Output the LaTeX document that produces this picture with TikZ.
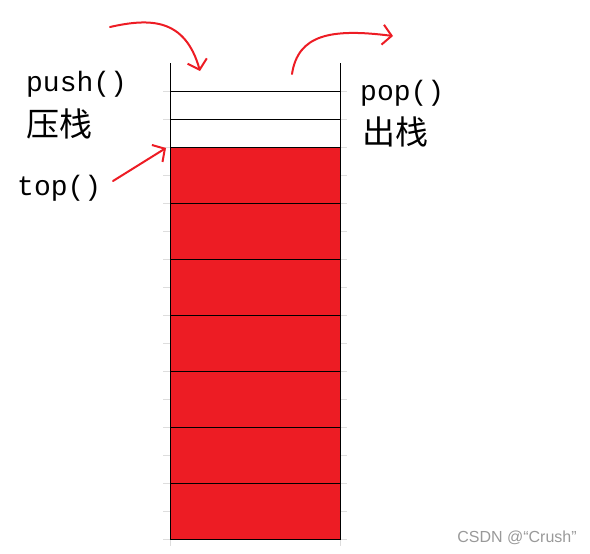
\documentclass[tikz,border=0pt]{standalone}
\usepackage{fontspec}
\setmonofont{Liberation Mono}
\setsansfont{Liberation Sans}
\newfontfamily\cjk{Noto Sans CJK SC}
\usepackage{tikz}
\usetikzlibrary {arrows.meta}
\definecolor{paintred}{HTML}{ED1C24}
\definecolor{tickgray}{HTML}{DDDDDD}

\begin{document}
\begin{tikzpicture} [x = 1pt, y = -1pt]
        %style
        \tikzset{cell/.style = {shape=rectangle, draw, fill=paintred, minimum width=170pt, minimum height=56pt, inner sep=0pt, anchor=north west, line width=1pt}}
        \tikzset{fname/.style = {font=\ttfamily\fontsize{28}{28}\selectfont, inner sep=0pt, anchor=base west}}
        \tikzset{cn/.style = {font=\cjk\fontsize{33}{33}\selectfont, inner sep=0pt}}
        \tikzset{hand/.style = {draw=paintred, line width=2pt, line cap=round, line join=round, -{Straight Barb[length=9pt, width=20pt]}}}
        \tikzset{tick/.style = {draw=tickgray, line width=1pt}}
        \useasboundingbox (0,0) rectangle (590,554);
        % grid ticks
        \foreach \y in {91,119,...,539}
            \draw[tick] (163,\y) -- (170,\y) (340,\y) -- (347,\y);
        \draw[tick] (170,539) -- (170,546) (340,539) -- (340,546);
        % stack
        \foreach \i in {1,...,7}
            \node[cell] (cell\i) at (170,{147+56*(\i-1)}) {};
        \draw[line width=1pt] (170,91) -- (340,91) (170,119) -- (340,119);
        \draw[line width=1pt] (170,63) -- (170,539) (340,63) -- (340,539);
        % labels
        \node[fname] (push)   at (26,91)   {push()};
        \node[cn]    (pushcn) at (60,124)  {压栈};
        \node[fname] (pop)    at (360,100) {pop()};
        \node[cn]    (popcn)  at (395,132) {出栈};
        \node[fname] (top)    at (17,195)  {top()};
        \node[font=\sffamily\fontsize{16}{16}\selectfont, text=gray!80, inner sep=0pt] (csdn) at (517,538) {CSDN @“Crush”};
        % arrows
        \coordinate (pushfrom) at (110,27);
        \coordinate (pushto)   at (200,71);
        \coordinate (popfrom)  at (292,74);
        \coordinate (popto)    at (393,36);
        \coordinate (topfrom)  at (113,181);
        \draw[hand] (pushfrom) .. controls (150,18) and (185,18) .. (pushto);
        \draw[hand] (popfrom) .. controls (298,35) and (330,28) .. (popto);
        \draw[hand] (topfrom) -- ([shift={(-4,1)}]cell1.north west);
\end{tikzpicture}
\end{document}
